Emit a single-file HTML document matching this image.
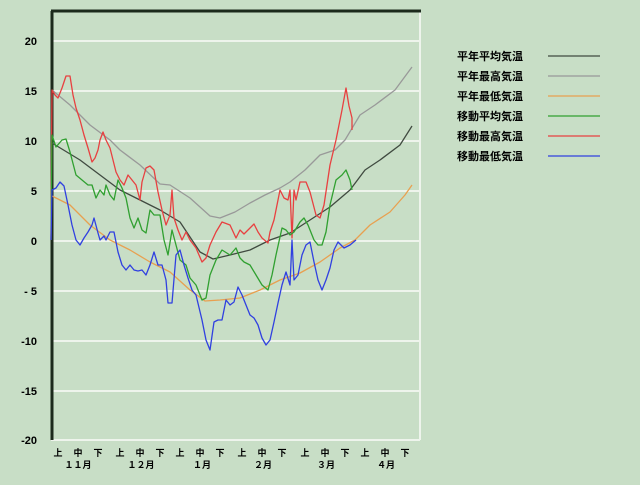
<!DOCTYPE html><html><head><meta charset="utf-8"><style>
body{margin:0;width:640px;height:480px;background:#c8dec6;overflow:hidden}
svg text{font-family:"Liberation Sans","Noto Sans CJK JP",sans-serif;font-weight:bold;font-size:11px;fill:#000}
</style></head><body>
<svg width="640" height="480" xmlns="http://www.w3.org/2000/svg">
<rect width="640" height="480" fill="#c8dec6"/>
<g stroke="#eef4ec" stroke-width="2">
<line x1="51" y1="41" x2="420" y2="41"/><line x1="51" y1="91" x2="420" y2="91"/><line x1="51" y1="141" x2="420" y2="141"/><line x1="51" y1="191" x2="420" y2="191"/><line x1="51" y1="241" x2="420" y2="241"/><line x1="51" y1="291" x2="420" y2="291"/><line x1="51" y1="341" x2="420" y2="341"/><line x1="51" y1="391" x2="420" y2="391"/><line x1="51" y1="440" x2="420" y2="440"/><line x1="420" y1="11" x2="420" y2="440"/>
</g>
<line x1="51" y1="11" x2="421" y2="11" stroke="#1c2a1c" stroke-width="3"/>
<line x1="52" y1="11" x2="52" y2="440" stroke="#1c2a1c" stroke-width="3"/>
<g text-anchor="end"><text x="37" y="45">20</text><text x="37" y="95">15</text><text x="37" y="145">10</text><text x="37" y="195">5</text><text x="37" y="245">0</text><text x="37" y="295">- 5</text><text x="37" y="345">-10</text><text x="37" y="395">-15</text><text x="37" y="444">-20</text></g>
<g text-anchor="middle" style="font-size:9px">
<text x="58" y="456" style="font-size:9px">上</text><text x="78" y="456" style="font-size:9px">中</text><text x="98" y="456" style="font-size:9px">下</text>
<text x="120" y="456" style="font-size:9px">上</text><text x="140" y="456" style="font-size:9px">中</text><text x="160" y="456" style="font-size:9px">下</text>
<text x="180" y="456" style="font-size:9px">上</text><text x="200" y="456" style="font-size:9px">中</text><text x="220" y="456" style="font-size:9px">下</text>
<text x="242" y="456" style="font-size:9px">上</text><text x="262" y="456" style="font-size:9px">中</text><text x="282" y="456" style="font-size:9px">下</text>
<text x="305" y="456" style="font-size:9px">上</text><text x="325" y="456" style="font-size:9px">中</text><text x="345" y="456" style="font-size:9px">下</text>
<text x="365" y="456" style="font-size:9px">上</text><text x="385" y="456" style="font-size:9px">中</text><text x="405" y="456" style="font-size:9px">下</text>
<text x="78" y="468" style="font-size:9px">１１月</text><text x="141" y="468" style="font-size:9px">１２月</text><text x="202" y="468" style="font-size:9px">１月</text><text x="263" y="468" style="font-size:9px">２月</text><text x="326" y="468" style="font-size:9px">３月</text><text x="386" y="468" style="font-size:9px">４月</text>
</g>
<g fill="none" stroke-width="1.3" stroke-linejoin="round">
<polyline stroke="#999" points="52,90 70,105 90,125 110,140 120,150 140,165 160,184 170,185 190,198 210,216 220,218 235,212 250,203 265,195 280,188 290,182 305,170 320,155 335,150 345,140 360,115 375,105 395,90 412,67"/>
<polyline stroke="#404a40" points="52,143 80,160 100,175 120,190 140,200 160,210 180,222 200,252 213,259 230,255 250,250 270,240 290,233 310,220 330,207 350,190 365,170 380,160 400,145 412,126"/>
<polyline stroke="#e8a050" points="52,196 70,205 90,225 110,240 130,250 150,262 170,272 190,290 205,301 220,300 240,298 260,290 280,280 300,273 320,262 340,248 355,240 370,225 390,212 405,195 412,185"/>
<polyline stroke="#e84040" points="51,240 52,90 55,95 58,98 62,88 66,76 70,76 73,95 76,108 80,120 84,135 88,148 92,162 95,158 98,150 100,140 103,132 106,140 110,148 113,160 116,172 120,180 124,185 128,175 132,180 136,185 140,200 142,182 146,168 150,166 154,170 158,192 162,210 166,225 170,215 172,190 174,218 178,230 182,240 186,232 190,240 196,248 202,262 206,258 210,245 216,232 222,222 230,225 236,238 240,230 244,234 250,228 254,224 258,232 262,238 268,243 270,232 274,220 280,190 284,198 288,200 290,190 292,238 294,190 296,200 300,182 306,182 310,192 316,215 320,218 324,205 330,165 336,140 342,110 346,88 349,106 352,118 352,130"/>
<polyline stroke="#30a030" points="51,240 52,135 56,147 62,140 66,139 70,152 76,175 82,180 88,185 92,185 96,198 100,190 104,195 106,185 110,195 114,200 118,180 122,188 126,198 130,218 134,228 138,218 142,230 146,233 150,210 154,215 160,215 164,240 168,255 172,230 176,245 180,260 186,265 190,278 196,285 202,300 206,298 210,275 216,260 222,250 230,255 236,248 240,258 244,262 250,265 256,275 262,285 268,290 272,275 276,255 282,228 286,230 290,235 294,232 300,222 304,218 308,225 314,240 318,245 322,245 326,232 330,205 336,180 342,175 346,170 350,180 352,190"/>
<polyline stroke="#3040e0" points="51,240 52,190 56,188 60,182 64,186 68,205 72,225 76,240 80,245 84,238 88,232 92,225 94,218 98,233 100,240 104,236 106,240 110,232 114,232 118,252 122,265 126,270 130,265 134,270 138,271 142,270 146,275 150,265 154,252 158,265 162,265 166,280 168,303 172,303 176,255 180,250 184,265 188,278 192,290 196,295 202,320 206,340 210,350 214,322 218,320 222,320 226,300 230,305 234,302 238,287 242,295 246,305 250,315 254,318 258,325 262,338 266,345 270,340 274,322 278,303 282,285 286,272 290,285 292,240 294,280 298,275 302,255 306,245 310,242 314,262 318,280 322,290 326,280 330,268 334,250 338,242 344,248 350,245 356,240"/>
</g>
<g><text x="457" y="60">平年平均気温</text><text x="457" y="80">平年最高気温</text><text x="457" y="100">平年最低気温</text><text x="457" y="120">移動平均気温</text><text x="457" y="140">移動最高気温</text><text x="457" y="160">移動最低気温</text></g>
<g stroke-width="1.3">
<line x1="548" y1="56" x2="600" y2="56" stroke="#404a40"/><line x1="548" y1="76" x2="600" y2="76" stroke="#999"/><line x1="548" y1="96" x2="600" y2="96" stroke="#e8a050"/><line x1="548" y1="116" x2="600" y2="116" stroke="#30a030"/><line x1="548" y1="136" x2="600" y2="136" stroke="#e84040"/><line x1="548" y1="156" x2="600" y2="156" stroke="#3040e0"/>
</g>
</svg></body></html>
